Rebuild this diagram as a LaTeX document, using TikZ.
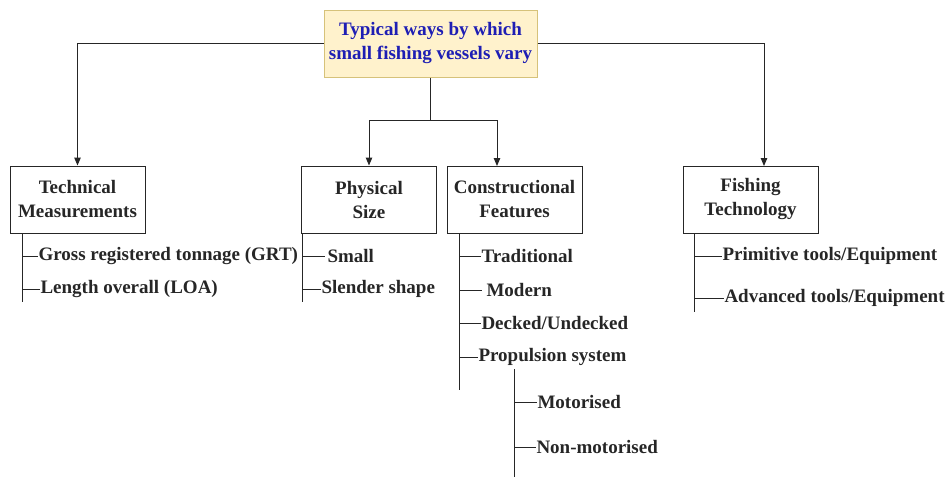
\documentclass[tikz,border=0pt]{standalone}
\usepackage{fontspec}
\setmainfont{Liberation Serif}
\usetikzlibrary{arrows.meta}
\definecolor{titlefill}{HTML}{FFF2CC}
\definecolor{titleline}{HTML}{D6C27A}
\definecolor{titleblue}{HTML}{1E1EB4}
\definecolor{ink}{HTML}{262626}
\begin{document}
\begin{tikzpicture}[x=1pt,y=-1pt,line width=1pt,
  box/.style={draw=ink,minimum width=135pt,minimum height=67pt,align=center,
    inner sep=0pt,text=ink,font=\fontsize{19}{24}\selectfont\bfseries},
  titlebox/.style={box,fill=titlefill,draw=titleline,text=titleblue,minimum width=213pt},
  item/.style={anchor=west,inner sep=0pt,text=ink,font=\fontsize{19}{24}\selectfont\bfseries},
  link/.style={draw=ink},
  arrowlink/.style={link,-{Triangle[length=8pt,width=6.5pt]}}]
\path[use as bounding box] (0,0) rectangle (948,477);

% top node and the four categories
\node[titlebox] (top) at (430.5,43.5) {Typical ways by which\\small fishing vessels vary};
\node[box] (tech) at (77.5,199.5) {Technical\\Measurements};
\node[box] (phys) at (369,199.5) {Physical\\Size};
\node[box] (cons) at (514.5,199.5) {Constructional\\Features};
\node[box] (fish) at (750.5,199.5) {Fishing\\Technology};

% entry points of the arrows
\coordinate (consin) at (497,166);
\coordinate (fishin) at (764,166);
\coordinate (split) at (430.5,120);

\draw[arrowlink] (top.west) -| (tech.north);
\draw[arrowlink] (top.east) -| (fishin);
\draw[link] (top.south) -- (split);
\draw[arrowlink] (split) -| (phys.north);
\draw[arrowlink] (split) -| (consin);

% Technical Measurements
\coordinate (t0) at (22,233);
\coordinate (t9) at (22,302);
\draw[link] (t0) -- (t9);
\node[item] (t1) at (38,256) {Gross registered tonnage (GRT)};
\node[item] (t2) at (40,289) {Length overall (LOA)};
\draw[link] (t0 |- t1) -- (t1.west);
\draw[link] (t0 |- t2) -- (t2.west);

% Physical Size
\coordinate (p0) at (302,233);
\coordinate (p9) at (302,302);
\draw[link] (p0) -- (p9);
\node[item] (p1) at (327,256) {Small};
\node[item] (p2) at (321,289) {Slender shape};
\draw[link] (p0 |- p1) -- ([xshift=-2pt]p1.west);
\draw[link] (p0 |- p2) -- (p2.west);

% Constructional Features
\coordinate (c0) at (459,233);
\coordinate (c9) at (459,390);
\draw[link] (c0) -- (c9);
\node[item] (c1) at (481,256) {Traditional};
\node[item] (c2) at (486,290) {Modern};
\node[item] (c3) at (481,323) {Decked/Undecked};
\node[item] (c4) at (478,357) {Propulsion system};
\draw[link] (c0 |- c1) -- (c1.west);
\draw[link] (c0 |- c2) -- ([xshift=-4pt]c2.west);
\draw[link] (c0 |- c3) -- (c3.west);
\draw[link] (c0 |- c4) -- (c4.west);

% Propulsion system
\coordinate (s0) at (514,369);
\coordinate (s9) at (514,477);
\draw[link] (s0) -- (s9);
\node[item] (s1) at (537,402) {Motorised};
\node[item] (s2) at (536,447) {Non-motorised};
\draw[link] (s0 |- s1) -- (s1.west);
\draw[link] (s0 |- s2) -- (s2.west);

% Fishing Technology
\coordinate (f0) at (694,233);
\coordinate (f9) at (694,312);
\draw[link] (f0) -- (f9);
\node[item] (f1) at (722,256) {Primitive tools/Equipment};
\node[item] (f2) at (724,298) {Advanced tools/Equipment};
\draw[link] (f0 |- f1) -- (f1.west);
\draw[link] (f0 |- f2) -- (f2.west);
\end{tikzpicture}
\end{document}
